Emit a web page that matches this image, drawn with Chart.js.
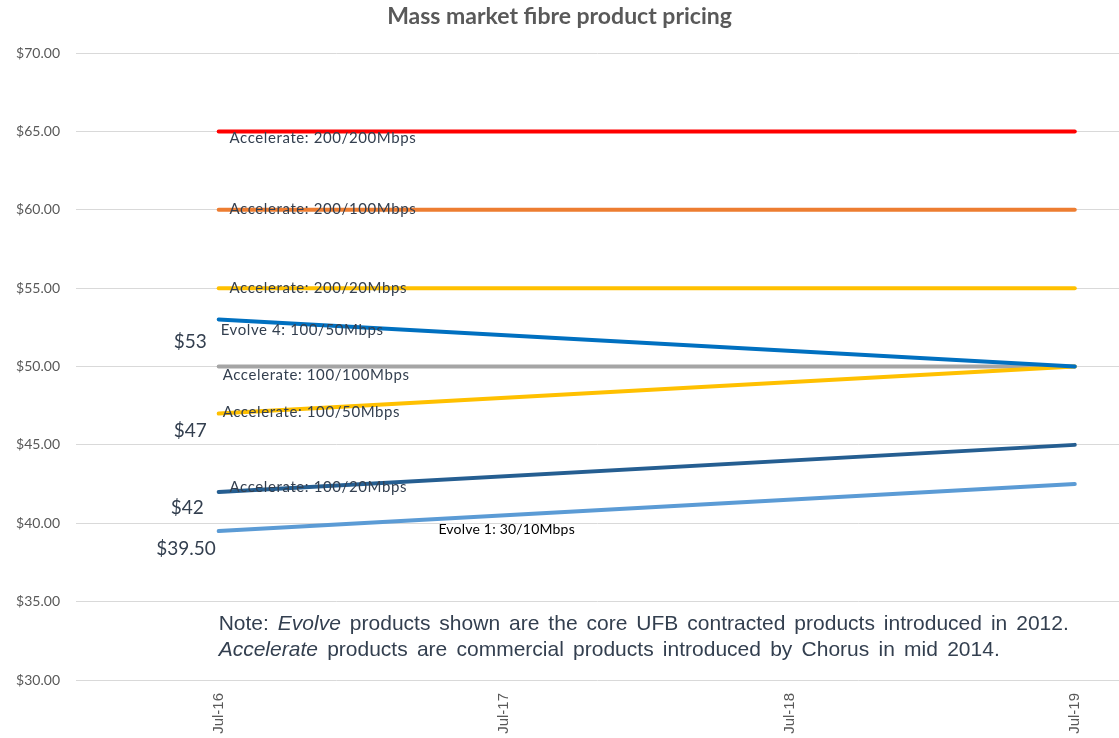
<!DOCTYPE html>
<html>
<head>
<meta charset="utf-8">
<script src="https://cdn.jsdelivr.net/npm/chart.js@4.4.1/dist/chart.umd.min.js"></script>
<style>
  html, body { margin: 0; padding: 0; background: #fff; }
</style>
</head>
<body>
<canvas id="chart" width="1119" height="738"></canvas>
<script>
// x axis periods (one tick per year), lines run from Jul-16 to Jul-19
const periods = ["Jul-16", "Jul-17", "Jul-18", "Jul-19"]
const pointPeriods = [0, 3]

// monthly wholesale price, $ (start, end)
const accelerate200_200 = [65, 65]
const accelerate200_100 = [60, 60]
const accelerate200_20 = [55, 55]
const evolve4_100_50 = [53, 50]
const accelerate100_100 = [50, 50]
const accelerate100_50 = [47, 50]
const accelerate100_20 = [42, 45]
const evolve1_30_10 = [39.5, 42.5]

const yTicks = [30, 35, 40, 45, 50, 55, 60, 65, 70]

const textDark = "#333f4f"

// text labels placed in data units [text, x, y, size, align, spacing, colour]
const labels = [
  ["Accelerate: 200/200Mbps", 0.038, 64.58, 15, "left", 0.6],
  ["Accelerate: 200/100Mbps", 0.038, 60.05, 15, "left", 0.6],
  ["Accelerate: 200/20Mbps", 0.038, 55.01, 15, "left", 0.6],
  ["Evolve 4: 100/50Mbps", 0.007, 52.33, 15, "left", 0.6],
  ["Accelerate: 100/100Mbps", 0.014, 49.46, 15, "left", 0.6],
  ["Accelerate: 100/50Mbps", 0.014, 47.10, 15, "left", 0.6],
  ["Accelerate: 100/20Mbps", 0.038, 42.31, 15, "left", 0.6],
  ["Evolve 1: 30/10Mbps", 0.77, 39.63, 14, "left", 0.2, "#000"],
  ["$53", -0.042, 51.56, 19, "right", 0],
  ["$47", -0.042, 45.89, 19, "right", 0],
  ["$42", -0.052, 40.97, 19, "right", 0],
  ["$39.50", -0.010, 38.36, 19, "right", 0]
]

const noteLines = [
  "Note: *Evolve products shown are the core UFB contracted products introduced in 2012.",
  "*Accelerate products are commercial products introduced by Chorus in mid 2014."
]
const noteY = [33.57, 31.91]
const noteRight = [2.979, 2.737]

function series(label, values, color, order) {
  return {
    label,
    data: values.map((v, i) => ({ x: pointPeriods[i], y: v })),
    borderColor: color,
    backgroundColor: color,
    borderWidth: 4,
    borderCapStyle: "round",
    pointRadius: 0,
    order
  }
}

const textPlugin = {
  id: "chartText",
  afterDatasetsDraw(chart) {
    const ctx = chart.ctx
    const x = chart.scales.x
    const y = chart.scales.y
    ctx.save()
    ctx.textBaseline = "middle"
    labels.forEach(([t, lx, ly, size, align, spacing, color]) => {
      ctx.font = size + "px Lato"
      ctx.letterSpacing = spacing + "px"
      ctx.fillStyle = color || textDark
      ctx.textAlign = align
      ctx.fillText(t, x.getPixelForValue(lx), y.getPixelForValue(ly))
    })
    ctx.letterSpacing = "0px"

    // note text box, words spread to the box width
    ctx.textAlign = "left"
    ctx.fillStyle = textDark
    const left = x.getPixelForValue(0)
    noteLines.forEach((line, li) => {
      const right = x.getPixelForValue(noteRight[li])
      const words = line.split(" ").map(w => ({
        text: w.replace("*", ""),
        italic: w.startsWith("*")
      }))
      const fontFor = w => (w.italic ? "italic " : "") + "21px 'Liberation Sans', Arial"
      let total = 0
      words.forEach(w => {
        ctx.font = fontFor(w)
        w.width = ctx.measureText(w.text).width
        total += w.width
      })
      const gap = (right - left - total) / (words.length - 1)
      let cx = left
      const cy = y.getPixelForValue(noteY[li])
      words.forEach(w => {
        ctx.font = fontFor(w)
        ctx.fillText(w.text, cx, cy)
        cx += w.width + gap
      })
    })
    ctx.restore()
  }
}

new Chart(document.getElementById("chart"), {
  type: "line",
  data: {
    datasets: [
      series("Accelerate: 200/200Mbps", accelerate200_200, "#ff0000", 5),
      series("Accelerate: 200/100Mbps", accelerate200_100, "#ed7d31", 5),
      series("Accelerate: 200/20Mbps", accelerate200_20, "#ffc000", 5),
      series("Evolve 4: 100/50Mbps", evolve4_100_50, "#0070c0", 1),
      series("Accelerate: 100/100Mbps", accelerate100_100, "#a5a5a5", 3),
      series("Accelerate: 100/50Mbps", accelerate100_50, "#ffc000", 2),
      series("Accelerate: 100/20Mbps", accelerate100_20, "#255e91", 4),
      series("Evolve 1: 30/10Mbps", evolve1_30_10, "#5b9bd5", 4)
    ]
  },
  options: {
    responsive: false,
    animation: false,
    layout: { padding: 0 },
    plugins: {
      legend: { display: false },
      tooltip: { enabled: false },
      title: {
        display: true,
        text: "Mass market fibre product pricing",
        color: "#595959",
        font: { family: "Lato", size: 23, weight: "bold" },
        padding: { top: 3, bottom: 22.4 }
      }
    },
    scales: {
      x: {
        type: "linear",
        min: -0.5,
        max: 3.155,
        grid: { display: false },
        border: { display: false },
        afterBuildTicks: s => { s.ticks = periods.map((_, i) => ({ value: i })) },
        afterFit: s => { s.height = 58 },
        ticks: {
          minRotation: 90,
          maxRotation: 90,
          padding: 5,
          color: "#595959",
          font: { family: "'Liberation Sans', Arial", size: 15 },
          callback: v => periods[v]
        }
      },
      y: {
        min: 30,
        max: 70,
        afterBuildTicks: s => { s.ticks = yTicks.map(v => ({ value: v })) },
        afterFit: s => { s.width = 76 },
        grid: { color: "#d9d9d9", drawTicks: false },
        border: { display: false },
        ticks: {
          padding: 16,
          color: "#595959",
          font: { family: "Lato", size: 14 },
          callback: v => "$" + v.toFixed(2)
        }
      }
    }
  },
  plugins: [textPlugin]
})
</script>
</body>
</html>
